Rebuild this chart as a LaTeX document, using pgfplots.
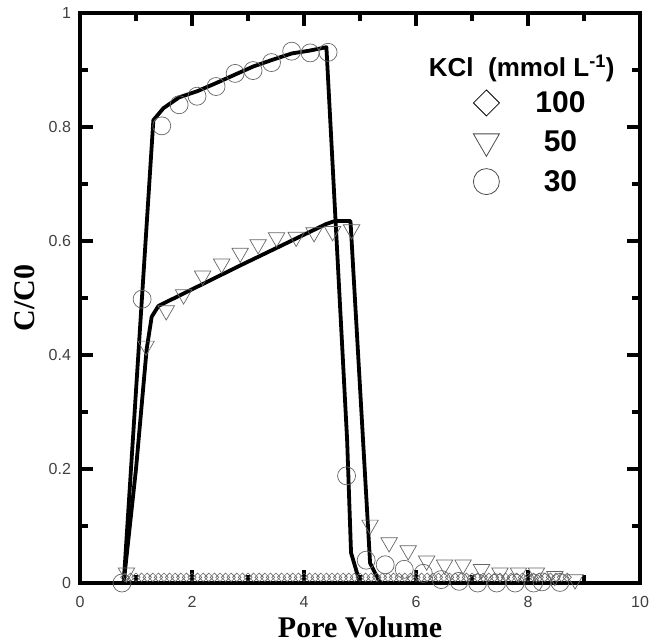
\documentclass[border=0pt]{standalone}
\usepackage{fontspec}
\setmainfont{Liberation Sans}
\newfontfamily\timesfont{Liberation Serif}
\usepackage{pgfplots}
\pgfplotsset{compat=1.18}

\begin{document}
\begin{tikzpicture}
\begin{axis}[
  scale only axis,
  width=560pt, height=570pt,
  xmin=0, xmax=10, ymin=0, ymax=1,
  xtick={0,2,4,6,8,10},
  ytick={0,0.2,0.4,0.6,0.8,1},
  minor x tick num=1, minor y tick num=1,
  tick align=inside,
  line width=3.5pt,
  axis line style={line width=3.5pt, black},
  major tick length=13pt, minor tick length=8pt,
  every major tick/.append style={black, line width=3.5pt},
  every minor tick/.append style={black, line width=3.5pt},
  tick label style={font=\fontsize{16}{18}\selectfont, text=black!75},
  x tick label style={yshift=-8pt},
  y tick label style={xshift=-4pt},
  /pgf/number format/assume math mode=true,
  xlabel={Pore Volume}, ylabel={C/C0},
  label style={font=\timesfont\bfseries\fontsize{30}{34}\selectfont},
  x label style={at={(axis description cs:0.5,-0.077)}, anchor=center},
  y label style={at={(axis description cs:-0.098,0.5)}, anchor=center},
  clip=false,
  legend cell align=center,
  legend style={at={(axis cs:6.94,0.872)}, anchor=north west, draw=none, fill=none,
    font=\bfseries\fontsize{30}{32}\selectfont, row sep=12pt, column sep=34pt},
]
% legend entries
\addlegendimage{only marks, mark=square, mark size=9.2pt, mark options={rotate=45, draw=black, line width=0.8pt, fill=none}}
\addlegendentry{100}
\addlegendimage{only marks, mark=triangle, mark size=15pt, mark options={rotate=180, draw=black!70, line width=0.8pt, fill=none}}
\addlegendentry{50}
\addlegendimage{only marks, mark=o, mark size=13pt, mark options={draw=black!70, line width=0.8pt}}
\addlegendentry{30}

% 100 mmol/L
\addplot[only marks, mark=square, mark size=3pt, mark options={rotate=45, draw=black!60, line width=0.6pt, fill=none}, forget plot] coordinates {
(0.8,0.01) (0.9,0.01) (1.0,0.01) (1.1,0.01) (1.2,0.01) (1.3,0.01) (1.4,0.01) (1.5,0.01) (1.6,0.01) (1.7,0.01)
(1.8,0.01) (1.9,0.01) (2.0,0.01) (2.1,0.01) (2.2,0.01) (2.3,0.01) (2.4,0.01) (2.5,0.01) (2.6,0.01) (2.7,0.01)
(2.8,0.01) (2.9,0.01) (3.0,0.01) (3.1,0.01) (3.2,0.01) (3.3,0.01) (3.4,0.01) (3.5,0.01) (3.6,0.01) (3.7,0.01)
(3.8,0.01) (3.9,0.01) (4.0,0.01) (4.1,0.01) (4.2,0.01) (4.3,0.01) (4.4,0.01) (4.5,0.01) (4.6,0.01) (4.7,0.01)
(4.8,0.01) (4.9,0.01) (5.0,0.01) (5.1,0.01) (5.2,0.01) (5.3,0.01) (5.4,0.01) (5.5,0.01) (5.6,0.01) (5.7,0.01)
(5.8,0.01) (5.9,0.01) (6.0,0.01) (6.1,0.01) (6.2,0.01) (6.3,0.01) (6.4,0.01) (6.5,0.01) (6.6,0.01) (6.7,0.01)
(6.8,0.01) (6.9,0.01) (7.0,0.01) (7.1,0.01) (7.2,0.01) (7.3,0.01) (7.4,0.01) (7.5,0.01) (7.6,0.01) (7.7,0.01)
(7.8,0.01) (7.9,0.01) (8.0,0.01) (8.1,0.01) (8.2,0.01) (8.3,0.01) (8.4,0.01) (8.5,0.01) (8.6,0.01) (8.7,0.01)
};

% 50 mmol/L
\addplot[only marks, mark=triangle, mark size=9.5pt, mark options={rotate=180, draw=black!60, line width=0.7pt, fill=none}, forget plot] coordinates {
(0.83,0.018) (1.18,0.416) (1.54,0.478) (1.85,0.506) (2.19,0.539) (2.53,0.560) (2.86,0.579)
(3.18,0.594) (3.51,0.606) (3.86,0.607) (4.18,0.615) (4.51,0.617) (4.85,0.620)
(5.18,0.102) (5.52,0.071) (5.86,0.057) (6.19,0.039) (6.51,0.032) (6.84,0.032)
(7.17,0.024) (7.50,0.018) (7.83,0.018) (8.15,0.018) (8.48,0.012) (8.84,0.006)
};

% 30 mmol/L
\addplot[only marks, mark=o, mark size=9pt, mark options={draw=black!60, line width=0.7pt}, forget plot] coordinates {
(0.75,0.0) (1.11,0.498) (1.46,0.802) (1.77,0.839) (2.09,0.854) (2.43,0.871) (2.77,0.894)
(3.09,0.899) (3.42,0.913) (3.78,0.933) (4.11,0.930) (4.43,0.931)
(4.76,0.188) (5.11,0.040) (5.45,0.032) (5.79,0.024) (6.13,0.017) (6.45,0.006) (6.77,0.003)
(7.10,0.0) (7.44,0.0) (7.77,0.0) (8.10,0.0) (8.25,0.002) (8.57,0.001)
};

% model fits
\addplot[black, line width=3.8pt, line join=round, forget plot] coordinates {
(0.78,0) (1.31,0.812) (1.49,0.833) (1.77,0.852) (2.10,0.863) (2.43,0.877) (2.77,0.892)
(3.09,0.906) (3.44,0.918) (3.78,0.929) (4.10,0.934) (4.40,0.940) (4.77,0.251) (4.84,0.053) (5.0,0)
};
\addplot[black, line width=3.8pt, line join=round, forget plot] coordinates {
(0.78,0) (1.0,0.2) (1.19,0.41) (1.28,0.467) (1.40,0.486) (2.86,0.557) (4.40,0.630)
(4.55,0.635) (4.83,0.635) (5.18,0.035) (5.36,0)
};

\node[anchor=west, inner sep=0pt, font=\bfseries\fontsize{26}{28}\selectfont] at (axis cs:6.2,0.902) {KCl\ \ (mmol L\textsuperscript{-1})};
\end{axis}
\path ([shift={(-80pt,-59pt)}]current axis.south west) rectangle ([shift={(21pt,13pt)}]current axis.north east);
\end{tikzpicture}
\end{document}
